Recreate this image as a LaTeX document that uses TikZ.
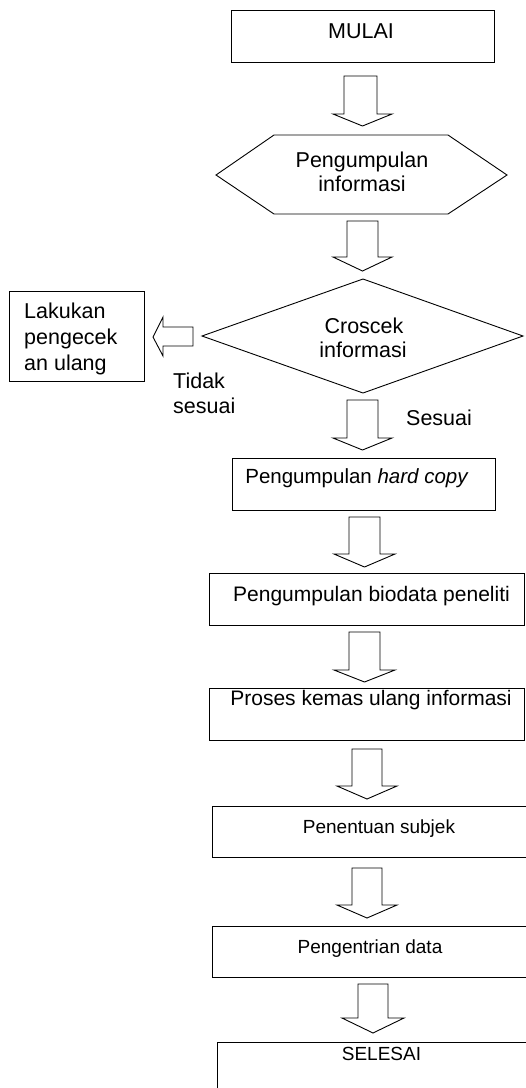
\documentclass[tikz,border=0pt]{standalone}
\usepackage{fontspec}
\setmainfont{Liberation Sans}
\newcommand\blockdown[7]{\draw[blk] (#1,#3) -- (#2,#3) -- (#2,#4) -- (#6,#4) -- ({(#5+#6)/2},#7) -- (#5,#4) -- (#1,#4) -- cycle;}
\tikzset{
  box/.style={draw=black, rectangle, inner sep=0pt, line width=0.9pt},
  shp/.style={draw=black, line width=0.9pt, line join=miter},
  blk/.style={draw=black, fill=white, line width=0.9pt, line join=miter},
  txt/.style={inner sep=0pt, anchor=base, font=\fontsize{21.5}{26}\selectfont},
  txtl/.style={txt, anchor=base west},
  txtb/.style={inner sep=0pt, anchor=base, font=\fontsize{21}{26}\selectfont},
  txts/.style={inner sep=0pt, anchor=base, font=\fontsize{19}{24}\selectfont}
}
\begin{document}
\begin{tikzpicture}[x=1pt,y=-1pt]
\useasboundingbox (0,0) rectangle (526,1088);
\clip (0,0) rectangle (526,1088);

% process boxes
\node[box, minimum width=263pt, minimum height=52pt] (mulai) at (362.5,36) {};
\node[box, minimum width=263pt, minimum height=52pt] (hard) at (363.5,484) {};
\node[box, minimum width=315pt, minimum height=52pt] (bio) at (366.5,599) {};
\node[box, minimum width=315pt, minimum height=52pt] (proses) at (366.5,714) {};
\node[box, minimum width=328pt, minimum height=51pt] (subjek) at (376,831.5) {};
\node[box, minimum width=328pt, minimum height=51pt] (entri) at (376,951.5) {};
\node[box, minimum width=328pt, minimum height=58pt] (selesai) at (381,1071) {};
\node[box, minimum width=135pt, minimum height=90pt] (ulang) at (76.5,336) {};

% hexagon
\coordinate (hL) at (216,175);
\coordinate (hTL) at (274,135);
\coordinate (hTR) at (448,135);
\coordinate (hR) at (507,175);
\coordinate (hBR) at (448,214);
\coordinate (hBL) at (274,214);
\draw[shp] (hL) -- (hTL) -- (hTR) -- (hR) -- (hBR) -- (hBL) -- cycle;

% diamond
\coordinate (dL) at (202,336);
\coordinate (dT) at (363,279);
\coordinate (dR) at (523,336);
\coordinate (dB) at (363,393);
\draw[shp] (dL) -- (dT) -- (dR) -- (dB) -- cycle;

% texts
\node[txt] (tmulai) at (361,38) {MULAI};
\node[txt] (thex1) at (362,167) {Pengumpulan};
\node[txt] (thex2) at (362,191) {informasi};
\node[txt] (tdia1) at (364,333) {Croscek};
\node[txt] (tdia2) at (363,357) {informasi};
\node[txtl] (tul1) at (24,318) {Lakukan};
\node[txtl] (tul2) at (24,344) {pengecek};
\node[txtl] (tul3) at (24,370) {an ulang};
\node[txtl] (ttid1) at (173,388) {Tidak};
\node[txtl] (ttid2) at (173,413) {sesuai};
\node[txtl] (tses) at (406,425) {Sesuai};
\node[inner sep=0pt, anchor=base, font=\fontsize{20.5}{25}\selectfont] (thard) at (357,483) {Pengumpulan \textit{hard copy}};
\node[txtb] (tbio) at (371.5,601) {Pengumpulan biodata peneliti};
\node[txtb] (tproses) at (371,705) {Proses kemas ulang informasi};
\node[txts] (tsubjek) at (379,833) {Penentuan subjek};
\node[txts] (tentri) at (370,953) {Pengentrian data};
\node[txts] (tselesai) at (381.5,1060) {SELESAI};

% block arrows
\blockdown{344}{377}{76}{114}{333}{392}{126}
\blockdown{347}{378}{221}{257}{333}{392}{271}
\blockdown{347}{378}{400}{438}{333}{392}{450}
\blockdown{349}{380}{517}{554}{334}{395}{567}
\blockdown{349}{380}{632}{670}{334}{395}{682}
\blockdown{352}{382}{749}{786}{337}{397}{799}
\blockdown{352}{382}{868}{905}{337}{397}{918}
\blockdown{358}{388}{984}{1018}{342}{404}{1033}
\draw[blk] (193,327) -- (193,346) -- (163,346) -- (163,356) -- (153,337) -- (163,317) -- (163,327) -- cycle;
\end{tikzpicture}
\end{document}
